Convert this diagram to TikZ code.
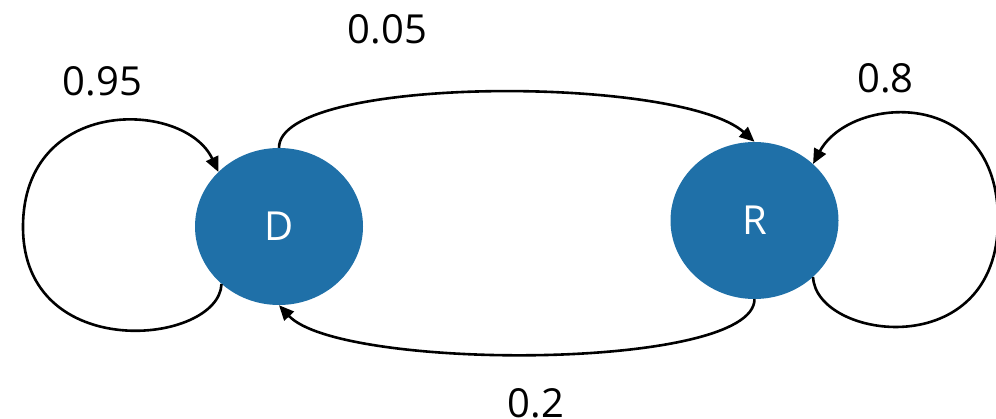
\documentclass[tikz,border=0pt]{standalone}
\usepackage{fontspec}
\setmainfont{Open Sans}
\usetikzlibrary{arrows.meta,shapes.geometric}
\definecolor{stateblue}{RGB}{31,112,168}
\begin{document}
\begin{tikzpicture}[x=1pt,y=-1pt,
  statenode/.style={ellipse,fill=stateblue,draw=none,inner sep=0pt,minimum width=168pt,minimum height=157pt,text=white,font=\fontsize{40}{48}\selectfont},
  edge/.style={line width=2.6pt,-{Triangle[length=15pt,width=13pt]}},
  prob/.style={anchor=base,font=\fontsize{40}{48}\selectfont,inner sep=0pt}]
\useasboundingbox (0,0) rectangle (996,418);
\node[statenode] (D) at (279,226.5) {D};
\node[statenode] (R) at (754.5,220.5) {R};
\coordinate (dl) at (23,227);
\coordinate (rr) at (998,220);
% D -> R
\draw[edge] (D.north) .. controls (279,75) and (680,75) .. (R.north);
% R -> D
\draw[edge] (R.south) .. controls (754,371) and (340,371) .. (D.south);
% D self loop
\draw[edge] (D.225) .. controls (219,345) and (23,365) .. (dl) .. controls (23,95) and (185,100) .. (D.138);
% R self loop
\draw[edge] (R.-44) .. controls (816,340) and (998,365) .. (rr) .. controls (998,85) and (850,95) .. (R.44);
\node[prob] (p95) at (102.5,95) {0.95};
\node[prob] (p05) at (387.5,43) {0.05};
\node[prob] (p8) at (885.5,92) {0.8};
\node[prob] (p2) at (536,417) {0.2};
\end{tikzpicture}
\end{document}
